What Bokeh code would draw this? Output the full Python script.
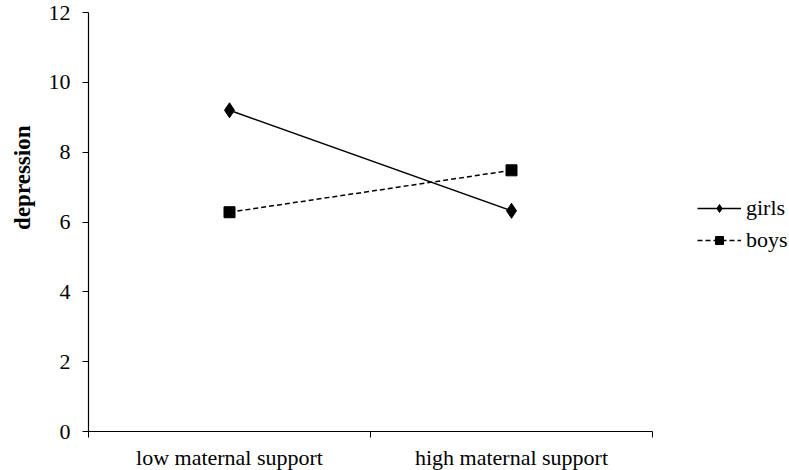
from bokeh.plotting import figure
from bokeh.models import FixedTicker, Legend, LegendItem, Range1d, Title
from bokeh.embed import file_html
from bokeh.resources import INLINE

categories = ["low maternal support", "high maternal support"]
girls = [9.2, 6.32]
boys = [6.28, 7.48]
y_ticks = [0, 2, 4, 6, 8, 10, 12]
y_title = "depression"

xs = [i + 0.5 for i in range(len(categories))]
bounds = list(range(len(categories) + 1))

FONT = "'Liberation Serif', serif"

p = figure(width=789, height=466, frame_width=564, frame_height=419,
           min_border_left=88, min_border_right=137, min_border_top=12, min_border_bottom=35,
           output_backend="svg", toolbar_location=None,
           x_range=Range1d(0, len(categories)), y_range=Range1d(0, 12))
p.outline_line_color = None
p.grid.visible = False
p.background_fill_color = "white"
p.border_fill_color = "white"

# x axis
p.xaxis.ticker = FixedTicker(ticks=xs, minor_ticks=bounds)
p.xaxis.major_label_overrides = {x: c for x, c in zip(xs, categories)}
p.xaxis.major_tick_line_color = None
p.xaxis.minor_tick_line_color = "black"
p.xaxis.minor_tick_out = 6
p.xaxis.minor_tick_in = 0
p.xaxis.axis_line_color = "black"
p.xaxis.axis_line_width = 1.2
p.xaxis.major_label_text_font = FONT
p.xaxis.major_label_text_font_size = "22px"
p.xaxis.major_label_text_color = "black"
p.xaxis.major_label_standoff = 7

# y axis
p.yaxis.ticker = FixedTicker(ticks=y_ticks)
p.yaxis.minor_tick_line_color = None
p.yaxis.major_tick_out = 6
p.yaxis.major_tick_in = 0
p.yaxis.major_tick_line_color = "black"
p.yaxis.axis_line_color = "black"
p.yaxis.axis_line_width = 1.2
p.yaxis.major_label_text_font = FONT
p.yaxis.major_label_text_font_size = "22px"
p.yaxis.major_label_text_color = "black"
p.yaxis.major_label_standoff = 12

ytitle = Title(text=y_title, align="right", offset=113, standoff=17,
               vertical_align="top",
               text_font=FONT, text_font_style="bold", text_font_size="23px",
               text_color="black")
p.add_layout(ytitle, "left")

gl = p.line(xs, girls, line_color="black", line_width=1.5)
gm = p.scatter(xs, girls, marker="diamond", size=15, color="black")
bl = p.line(xs, boys, line_color="black", line_width=1.5, line_dash="5 3")
bm = p.scatter(xs, boys, marker="square", size=11, color="black")

legend = Legend(items=[LegendItem(label="girls", renderers=[gl, gm]),
                       LegendItem(label="boys", renderers=[bl, bm])],
                location=(45, 178), padding=0, margin=0, spacing=6,
                glyph_width=44, glyph_height=20, label_height=20, label_standoff=5,
                label_text_font=FONT, label_text_font_size="22px",
                label_text_color="black",
                border_line_color=None, background_fill_alpha=0)
p.add_layout(legend, "right")

open("out.html", "w").write(file_html(p, INLINE))
